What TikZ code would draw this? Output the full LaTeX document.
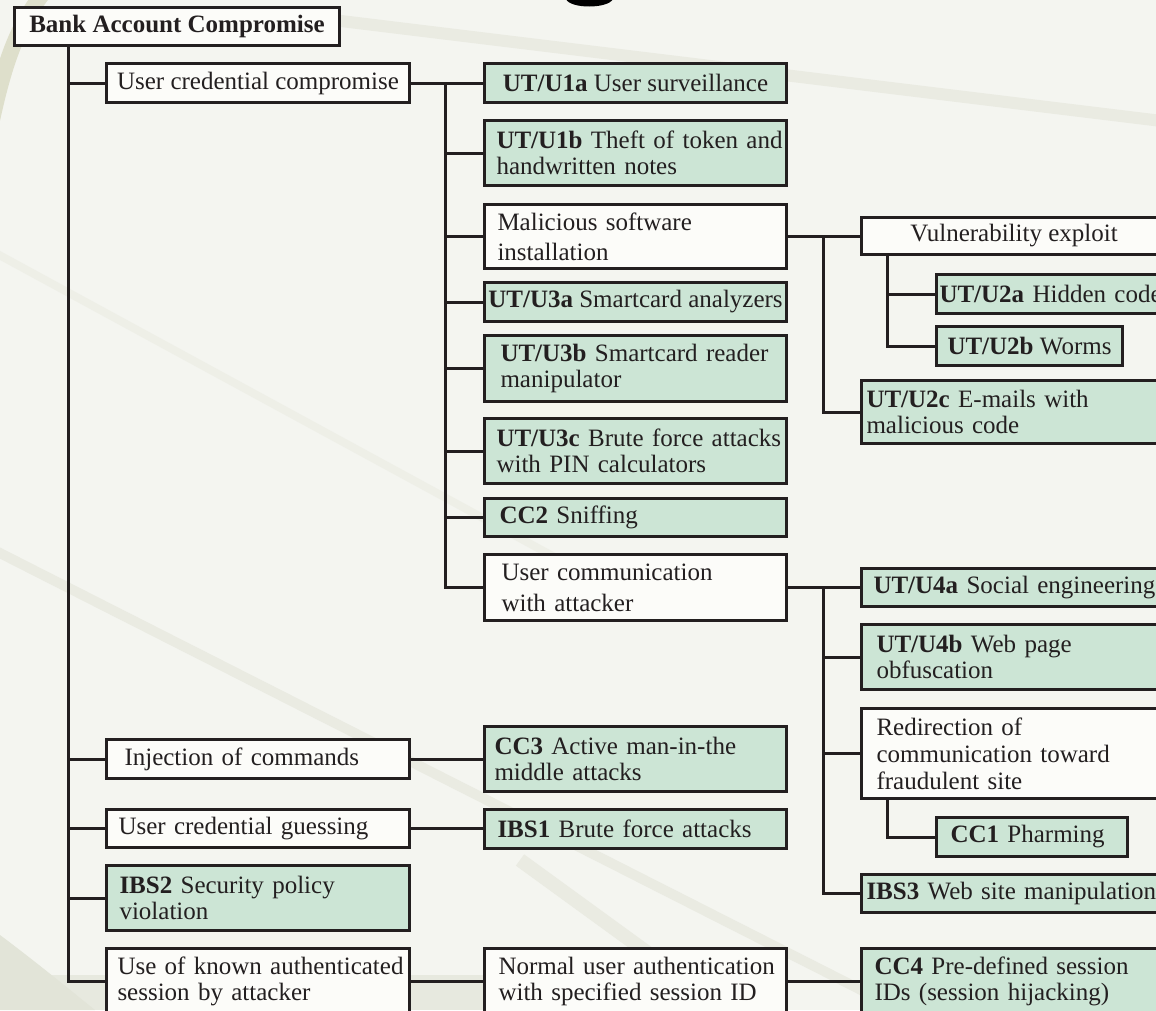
\documentclass[tikz,border=0pt]{standalone}
\usepackage{fontspec}
\setmainfont{Liberation Serif}
\definecolor{ink}{HTML}{231F20}
\definecolor{leaf}{RGB}{204,229,213}
\definecolor{paper}{RGB}{252,252,249}
\definecolor{bg}{RGB}{244,245,240}
\definecolor{streak}{RGB}{234,235,226}
\definecolor{olive}{RGB}{222,223,203}
\definecolor{dusk}{RGB}{226,228,216}
\newcommand\boxfont{\fontsize{25pt}{26pt}\selectfont}
\tikzset{
  box/.style={draw=ink, line width=3pt, anchor=north west, font=\boxfont,
              inner ysep=0pt, text=ink},
  plain/.style={box, fill=paper},
  leafbox/.style={box, fill=leaf},
  lft/.style 2 args={align=left, inner xsep=#2pt, text width=#1pt},
  ctr/.style={align=center, inner xsep=2pt},
  link/.style={draw=ink, line width=3pt},
}
\begin{document}
\begin{tikzpicture}[x=1pt, y=-1pt]
\useasboundingbox (0,0) rectangle (1156,1010);
\clip (0,0) rectangle (1156,1010);

% backdrop with faint streaks
\fill[bg] (0,0) rectangle (1156,1010);
\draw[olive, line width=16pt] (-8,120) .. controls (5,60) and (18,25) .. (44,-8);
\draw[streak, line width=12pt] (300,16) -- (1170,122);
\draw[streak, line width=10pt] (-10,548) -- (940,1030);
\draw[streak, line width=8pt, opacity=0.6] (-10,250) -- (560,560);
\fill[dusk, opacity=0.7] (0,975) rectangle (560,1010);
\fill[dusk] (0,935) .. controls (40,965) and (70,990) .. (95,1010) -- (0,1010) -- cycle;
\draw[streak, line width=14pt] (520,860) -- (740,1020);

% tail of a large glyph cut by the top edge
\fill[black] (566,-1) .. controls (570,9) and (608,9) .. (613,-1) -- cycle;

% root
\node[plain, ctr, minimum width=325pt, minimum height=38pt] (root) at (13,6)
  {\textbf{Bank Account Compromise}};

% first level
\node[plain, ctr, minimum width=303pt, minimum height=39pt] (ucc) at (105,62)
  {User credential compromise};
\node[plain, lft={267}{18}, minimum height=39pt] (inj) at (105,738)
  {Injection of commands};
\node[plain, lft={279}{12}, minimum height=38pt] (guess) at (105,808)
  {User credential guessing};
\node[leafbox, lft={277}{13}, minimum height=65pt] (ibs2) at (105,864)
  {\textbf{IBS2} Security policy\\violation};
\node[plain, lft={281}{11}, minimum height=66pt] (known) at (105,947)
  {\mbox{Use of known authenticated}\\session by attacker};

% second level
\node[leafbox, ctr, minimum width=302pt, minimum height=39pt] (u1a) at (483,62)
  {\textbf{UT/U1a} User surveillance};
\node[leafbox, lft={278}{12}, minimum height=65pt] (u1b) at (483,119)
  {\mbox{\textbf{UT/U1b} Theft of token and}\\handwritten notes};
\node[plain, lft={276}{13}, minimum height=64pt] (mal) at (483,203)
  {Malicious software\\[4pt]installation};
\node[leafbox, ctr, minimum width=302pt, minimum height=39pt] (u3a) at (483,281)
  {\textbf{UT/U3a} Smartcard analyzers};
\node[leafbox, lft={270}{16}, minimum height=66pt] (u3b) at (483,334)
  {\textbf{UT/U3b} Smartcard reader\\manipulator};
\node[leafbox, lft={278}{12}, minimum height=65pt] (u3c) at (483,417)
  {\mbox{\textbf{UT/U3c} Brute force attacks}\\with PIN calculators};
\node[leafbox, lft={272}{15}, minimum height=38pt] (cc2) at (483,497)
  {\textbf{CC2} Sniffing};
\node[plain, lft={268}{17}, minimum height=66pt] (ucomm) at (483,553)
  {User communication\\[5pt]with attacker};
\node[leafbox, lft={282}{10}, minimum height=65pt] (cc3) at (483,725)
  {\textbf{CC3} Active man-in-the\\middle attacks};
\node[leafbox, lft={276}{13}, minimum height=39pt] (ibs1) at (483,808)
  {\textbf{IBS1} Brute force attacks};
\node[plain, lft={274}{14}, minimum height=66pt] (norm) at (483,947)
  {\mbox{Normal user authentication}\\with specified session ID};

% third level
\node[plain, ctr, minimum width=305pt, minimum height=37pt] (vuln) at (860,216)
  {Vulnerability exploit};
\node[leafbox, lft={224}{3}, minimum height=39pt] (u2a) at (935,273)
  {\mbox{\textbf{UT/U2a} Hidden code}};
\node[leafbox, ctr, minimum width=186pt, minimum height=39pt] (u2b) at (935,325)
  {\textbf{UT/U2b} Worms};
\node[leafbox, lft={295}{5}, minimum height=63pt] (u2c) at (860,379)
  {\textbf{UT/U2c} E-mails with\\malicious code};
\node[leafbox, lft={281}{12}, minimum height=38pt] (u4a) at (860,567)
  {\mbox{\textbf{UT/U4a} Social engineering}};
\node[leafbox, lft={275}{15}, minimum height=65pt] (u4b) at (860,623)
  {\textbf{UT/U4b} Web page\\obfuscation};
\node[plain, lft={275}{15}, minimum height=90pt] (redir) at (860,707)
  {Redirection of\\[1pt]communication toward\\[1pt]fraudulent site};
\node[leafbox, lft={163}{14}, minimum height=39pt] (cc1) at (935,816)
  {\textbf{CC1} Pharming};
\node[leafbox, lft={295}{5}, minimum height=38pt] (ibs3) at (860,873)
  {\mbox{\textbf{IBS3} Web site manipulation}};
\node[leafbox, lft={279}{13}, minimum height=66pt] (cc4) at (860,947)
  {\textbf{CC4} Pre-defined session\\IDs (session hijacking)};

% trunk lines
\coordinate (ta) at (68,0);
\coordinate (tb) at (445,0);
\coordinate (tc) at (823,0);
\coordinate (td) at (887,0);

\draw[link] (ta |- root.south) |- (known.west);
\foreach \n in {ucc,inj,guess,ibs2}
  \draw[link] (ta |- \n.west) -- (\n.west);

\draw[link] (ucc.east) -- (ucc.east -| u1a.west);
\draw[link] (tb |- u1a.west) |- (ucomm.west);
\foreach \n in {u1b,mal,u3a,u3b,u3c,cc2}
  \draw[link] (tb |- \n.west) -- (\n.west);

\draw[link] (mal.east) -- (mal.east -| vuln.west);
\draw[link] (tc |- mal.east) |- (u2c.west);
\draw[link] (td |- vuln.south) |- (u2b.west);
\draw[link] (td |- u2a.west) -- (u2a.west);

\draw[link] (ucomm.east) -- (ucomm.east -| u4a.west);
\draw[link] (tc |- ucomm.east) |- (ibs3.west);
\foreach \n in {u4b,redir}
  \draw[link] (tc |- \n.west) -- (\n.west);
\draw[link] (td |- redir.south) |- (cc1.west);

\draw[link] (inj.east) -- (inj.east -| cc3.west);
\draw[link] (guess.east) -- (guess.east -| ibs1.west);
\draw[link] (known.east) -- (known.east -| norm.west);
\draw[link] (norm.east) -- (norm.east -| cc4.west);
\end{tikzpicture}
\end{document}
